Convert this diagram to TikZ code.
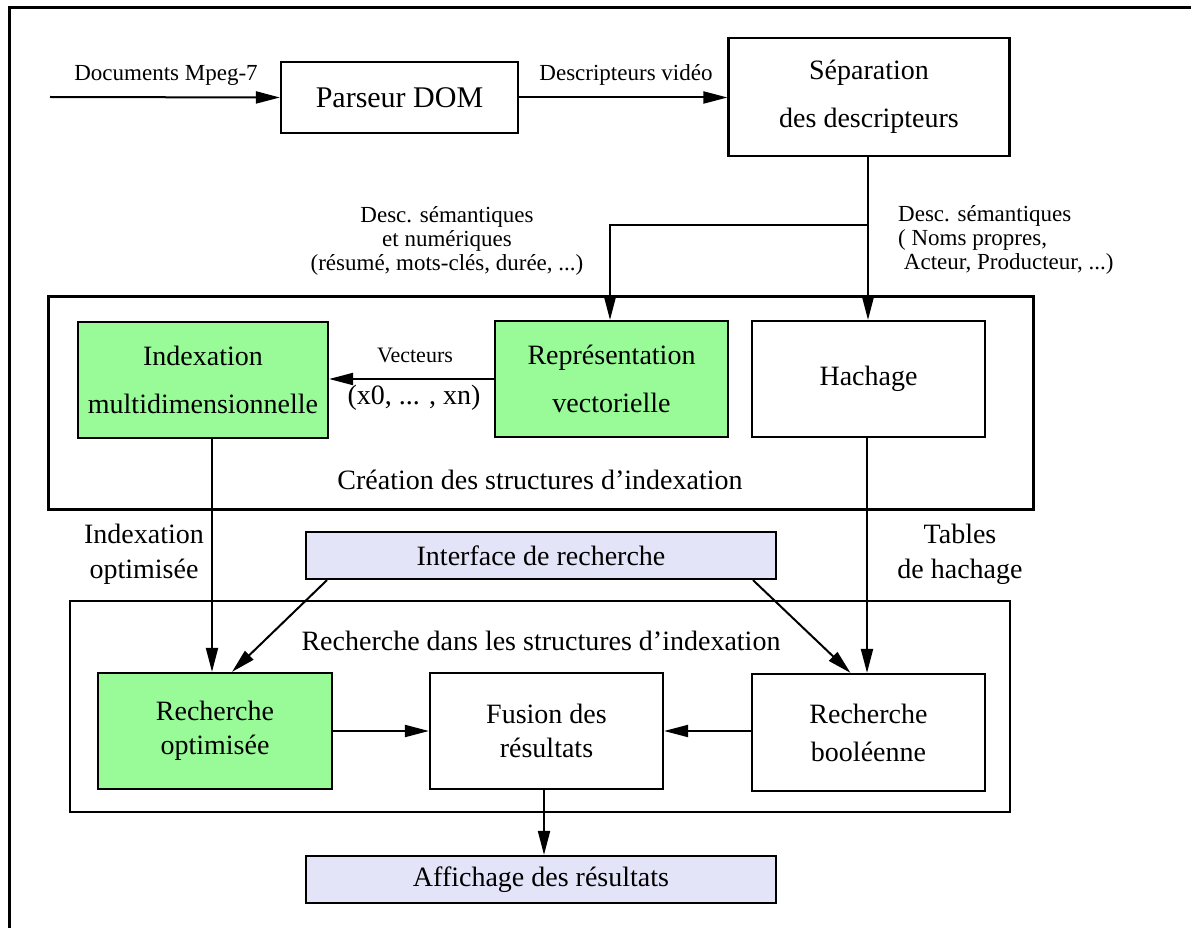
\documentclass[tikz,border=0pt]{standalone}
\usepackage{fontspec}
\setmainfont{Liberation Serif}
\usetikzlibrary{arrows.meta}
\definecolor{boxgreen}{HTML}{98FB98}
\definecolor{boxlav}{HTML}{E4E4F8}
\begin{document}
\begin{tikzpicture}[x=1pt,y=-1pt,
  box/.style={draw, line width=2.2pt, inner sep=0pt, align=center,
    font=\fontsize{28}{34}\selectfont},
  group/.style={draw, inner sep=0pt},
  lbl/.style={inner sep=0pt, align=center, font=\fontsize{23}{24}\selectfont},
  big/.style={inner sep=0pt, align=center, font=\fontsize{28}{35}\selectfont},
  arr/.style={line width=2pt, -{Triangle[length=24pt,width=12pt]}},
  ln/.style={line width=2pt}]
\useasboundingbox (0,0) rectangle (1191,928);

% outer frame (only top and left sides show)
\draw[line width=3pt] (9.5,940) -- (9.5,7.5) -- (1200,7.5);

% containers
\node[group, line width=3pt, minimum width=985, minimum height=213] (creation) at (540.5,402.5) {};
\node[group, line width=2.4pt, minimum width=940, minimum height=211] (search) at (540,706.5) {};
\node[big] (creationlbl) at (540,480) {Création des structures d'indexation};
\node[big] (searchlbl) at (541,641) {Recherche dans les structures d'indexation};

% top row
\coordinate (docin) at (50,97);
\node[box, minimum width=237, minimum height=71, font=\fontsize{30}{34}\selectfont] (parse) at (399.5,97.5) {Parseur DOM};
\node[box, minimum width=281, minimum height=118, font=\fontsize{28}{48}\selectfont] (sep) at (869,97) {Séparation\\des descripteurs};
\node[lbl] (doclbl) at (166,75) {Documents Mpeg-7};
\node[lbl] (desclbl) at (626,75) {Descripteurs vidéo};

% indexing structures
\node[box, fill=boxgreen, minimum width=250, minimum height=116, font=\fontsize{28}{48}\selectfont] (idx) at (203,380) {Indexation\\multidimensionnelle};
\node[box, fill=boxgreen, minimum width=233, minimum height=116, font=\fontsize{28}{48}\selectfont] (repr) at (611.5,379) {Représentation\\vectorielle};
\node[box, minimum width=233, minimum height=116] (hach) at (868.5,379) {Hachage};

\node[lbl] (semnum) at (447,241) {Desc. sémantiques\\et numériques\\(résumé, mots-clés, durée, ...)};
\node[lbl, align=left, anchor=west] (semlbl) at (898,240) {Desc. sémantiques\\( Noms propres,\\\ Acteur, Producteur, ...)};
\node[lbl, font=\fontsize{22}{24}\selectfont] (veclbl) at (415,355) {Vecteurs};
\node[big] (vecdim) at (414,398) {(x0, ... , xn)};

\node[big] (optlbl) at (144,554) {Indexation\\optimisée};
\node[big] (tablbl) at (960,554) {Tables\\de hachage};

% search part
\node[box, fill=boxlav, minimum width=470, minimum height=47] (iface) at (541,555.5) {Interface de recherche};
\node[box, fill=boxgreen, minimum width=234, minimum height=116] (ro) at (215,731) {Recherche\\optimisée};
\node[box, minimum width=233, minimum height=116] (fus) at (546.5,731) {Fusion des\\résultats};
\node[box, minimum width=233, minimum height=117, font=\fontsize{28}{38}\selectfont] (rb) at (868.5,732.5) {Recherche\\booléenne};
\node[box, fill=boxlav, minimum width=470, minimum height=47] (aff) at (541,879.5) {Affichage des résultats};

% connectors
\draw[arr] (docin) -- (parse.west);
\draw[arr] (parse.east) -- (parse.east -| sep.west);
\draw[arr] ([xshift=-1pt]sep.south) -- ([xshift=-0.5pt]hach.north);
\coordinate (split) at ([xshift=-1pt]sep.south |- 0,225);
\draw[arr] (split) -| ([xshift=-1.5pt]repr.north);
\draw[arr] (repr.west) -- (repr.west -| idx.east);
\draw[arr] ([xshift=9pt]idx.south) -- ([xshift=-3pt]ro.north);
\draw[arr] ([xshift=-1.5pt]hach.south) -- ([xshift=-1.5pt]rb.north);
\draw[arr] ([xshift=-214pt]iface.south) -- ([xshift=17pt]ro.north);
\draw[arr] ([xshift=212pt]iface.south) -- ([xshift=-18pt]rb.north);
\draw[arr] (ro.east) -- (ro.east -| fus.west);
\draw[arr] (rb.west |- ro.east) -- (ro.east -| fus.east);
\draw[arr] ([xshift=-2.5pt]fus.south) -- ([xshift=-2.5pt]fus.south |- aff.north);
\end{tikzpicture}
\end{document}
